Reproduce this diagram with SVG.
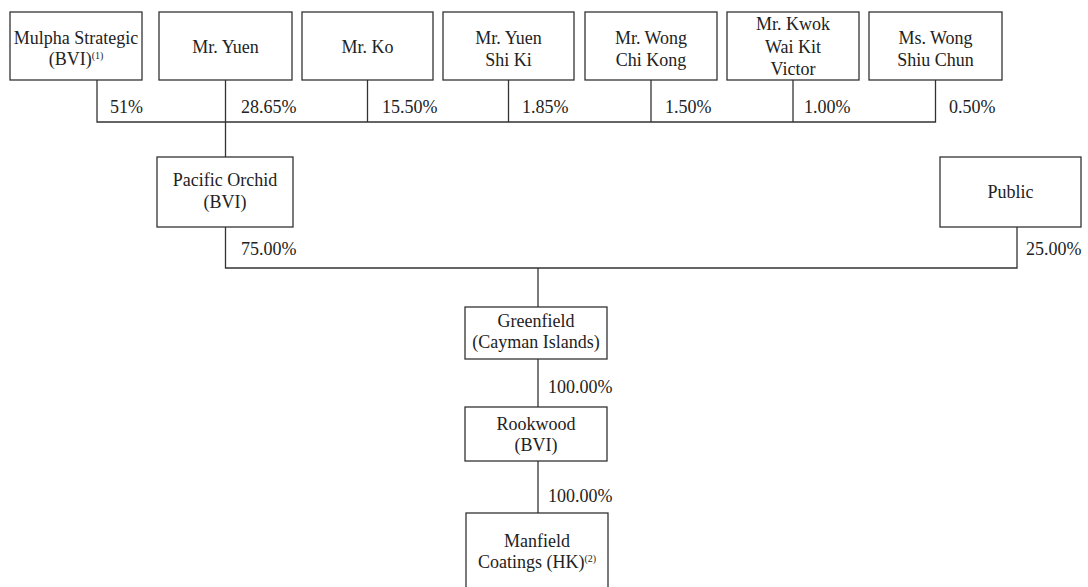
<svg xmlns="http://www.w3.org/2000/svg" width="1088" height="587" viewBox="0 0 1088 587">
<style>
  .box { fill: #ffffff; stroke: #333333; stroke-width: 1.3; }
  .t { font-family: "Liberation Serif", "Times New Roman", serif; font-size: 18px; fill: #222222; }
  .c { text-anchor: middle; }
  .sup { font-size: 10px; }
  .ln { fill: none; stroke: #333333; stroke-width: 1.3; }
</style>
<rect width="1088" height="587" fill="#ffffff"/>
<g id="connectors">
  <path class="ln" d="M97,80 V122 H935.5 V80"/>
  <path class="ln" d="M225.5,80 V157"/>
  <path class="ln" d="M367.5,80 V122"/>
  <path class="ln" d="M508.5,80 V122"/>
  <path class="ln" d="M651,80 V122"/>
  <path class="ln" d="M793,80 V122"/>
  <path class="ln" d="M225.5,227 V268 H1017 V227"/>
  <path class="ln" d="M538,268 V307"/>
  <path class="ln" d="M538,359 V407"/>
  <path class="ln" d="M538,461 V513"/>
  <text class="t" x="110" y="113">51%</text>
  <text class="t" x="241" y="113">28.65%</text>
  <text class="t" x="382" y="113">15.50%</text>
  <text class="t" x="522" y="113">1.85%</text>
  <text class="t" x="665" y="113">1.50%</text>
  <text class="t" x="804" y="113">1.00%</text>
  <text class="t" x="949" y="113">0.50%</text>
  <text class="t" x="241" y="255">75.00%</text>
  <text class="t" x="1026" y="255">25.00%</text>
  <text class="t" x="548" y="393">100.00%</text>
  <text class="t" x="548" y="502">100.00%</text>
</g>
<g id="mulpha">
  <rect class="box" x="10" y="12" width="132" height="68"/>
  <text class="t c" x="76" y="44">Mulpha Strategic</text>
  <text class="t c" x="76" y="65">(BVI)<tspan class="sup" dy="-6">(1)</tspan></text>
</g>
<g id="mr-yuen">
  <rect class="box" x="159" y="12" width="133" height="68"/>
  <text class="t c" x="225.5" y="52.5">Mr. Yuen</text>
</g>
<g id="mr-ko">
  <rect class="box" x="302" y="12" width="131" height="68"/>
  <text class="t c" x="367.5" y="52.5">Mr. Ko</text>
</g>
<g id="mr-yuen-shi-ki">
  <rect class="box" x="443" y="12" width="131" height="68"/>
  <text class="t c" x="508.5" y="44">Mr. Yuen</text>
  <text class="t c" x="508.5" y="65.5">Shi Ki</text>
</g>
<g id="mr-wong-chi-kong">
  <rect class="box" x="585" y="12" width="132" height="68"/>
  <text class="t c" x="651" y="44">Mr. Wong</text>
  <text class="t c" x="651" y="65.5">Chi Kong</text>
</g>
<g id="mr-kwok">
  <rect class="box" x="727" y="12" width="132" height="68"/>
  <text class="t c" x="793" y="30">Mr. Kwok</text>
  <text class="t c" x="793" y="52.5">Wai Kit</text>
  <text class="t c" x="793" y="75">Victor</text>
</g>
<g id="ms-wong">
  <rect class="box" x="869" y="12" width="133" height="68"/>
  <text class="t c" x="935.5" y="44">Ms. Wong</text>
  <text class="t c" x="935.5" y="65.5">Shiu Chun</text>
</g>
<g id="pacific-orchid">
  <rect class="box" x="157" y="157" width="136" height="70"/>
  <text class="t c" x="225" y="186">Pacific Orchid</text>
  <text class="t c" x="225" y="208">(BVI)</text>
</g>
<g id="public">
  <rect class="box" x="940" y="157" width="141" height="70"/>
  <text class="t c" x="1010.5" y="198">Public</text>
</g>
<g id="greenfield">
  <rect class="box" x="465" y="307" width="142" height="52"/>
  <text class="t c" x="536" y="327">Greenfield</text>
  <text class="t c" x="536" y="348">(Cayman Islands)</text>
</g>
<g id="rookwood">
  <rect class="box" x="465" y="407" width="142" height="54"/>
  <text class="t c" x="536" y="430">Rookwood</text>
  <text class="t c" x="536" y="451">(BVI)</text>
</g>
<g id="manfield">
  <rect class="box" x="466" y="513" width="142" height="80"/>
  <text class="t c" x="537" y="547">Manfield</text>
  <text class="t c" x="537" y="568">Coatings (HK)<tspan class="sup" dy="-6">(2)</tspan></text>
</g>
</svg>
